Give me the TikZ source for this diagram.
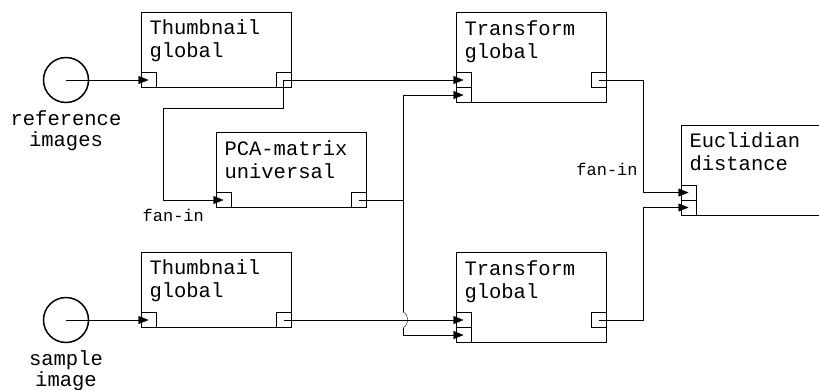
\documentclass[tikz,border=0pt]{standalone}
\usepackage{fontspec}
\newfontfamily\cour{Liberation Mono}
\usetikzlibrary{arrows.meta}
\tikzset{
  x=1pt, y=-1pt,
  line width=1.4pt,
  blk/.style={draw, rectangle, inner sep=0pt, minimum width=150pt},
  port/.style={draw, rectangle, inner sep=0pt, minimum size=15pt},
  src/.style={draw, circle, inner sep=0pt, minimum size=45pt, line width=1.5pt},
  btxt/.style={inner sep=0pt, font=\cour\fontsize{20.5}{23}\selectfont, anchor=base west, align=left},
  ctxt/.style={inner sep=0pt, font=\cour\fontsize{20.5}{21}\selectfont, anchor=base, align=center},
  fantxt/.style={inner sep=0pt, font=\cour\fontsize{17}{20}\selectfont, anchor=base},
  flow/.style={-{Triangle[length=10pt,width=8pt]}},
}
\begin{document}
\begin{tikzpicture}
\useasboundingbox (0,0) rectangle (819,389);
\clip (0,0) rectangle (819,389);
% boxes
\node[blk, minimum height=75pt] (th1) at (216,50) {};
\node[blk, minimum height=75pt] (th2) at (216,290) {};
\node[blk, minimum height=75pt] (pca) at (291,170) {};
\node[blk, minimum height=90pt] (tr1) at (531,57.5) {};
\node[blk, minimum height=90pt] (tr2) at (531,297.5) {};
\node[blk, minimum height=90pt] (euc) at (756,170) {};
% box texts (anchor = baseline of the last line)
\node[btxt] (th1t) at ([shift={(8.5,45.5)}]th1.north west) {Thumbnail\\global};
\node[btxt] (th2t) at ([shift={(8.5,45.5)}]th2.north west) {Thumbnail\\global};
\node[btxt] (pcat) at ([shift={(8.5,46)}]pca.north west) {PCA-matrix\\universal};
\node[btxt] (tr1t) at ([shift={(8.5,46)}]tr1.north west) {Transform\\global};
\node[btxt] (tr2t) at ([shift={(8.5,46)}]tr2.north west) {Transform\\global};
\node[btxt] (euct) at ([shift={(8.5,45.7)}]euc.north west) {Euclidian\\distance};
% ports
\node[port] (th1in) at (148.5,80) {};
\node[port] (th1out) at (283.5,80) {};
\node[port] (th2in) at (148.5,320) {};
\node[port] (th2out) at (283.5,320) {};
\node[port] (pcain) at (223.5,200) {};
\node[port] (pcaout) at (358.5,200) {};
\node[port] (tr1in1) at (463.5,80) {};
\node[port] (tr1in2) at (463.5,95) {};
\node[port] (tr1out) at (598.5,80) {};
\node[port] (tr2in1) at (463.5,320) {};
\node[port] (tr2in2) at (463.5,335) {};
\node[port] (tr2out) at (598.5,320) {};
\node[port] (eucin1) at (688.5,192.5) {};
\node[port] (eucin2) at (688.5,207.5) {};
% sources
\node[src] (ref) at (66,80) {};
\node[src] (smp) at (66,320) {};
\node[ctxt] (reft) at (66,146.7) {reference\\images};
\node[ctxt] (smpt) at (66,386.7) {sample\\image};
\node[fantxt] (fan1) at (173.3,221) {fan-in};
\node[fantxt] (fan2) at (607,175.5) {fan-in};
% routing points
\coordinate (j1) at (163,108);
\coordinate (bus) at (403,200);
\coordinate (ja) at (403,312);
\coordinate (jb) at (403,327.5);
\coordinate (f1) at (643.5,192.5);
\coordinate (f2) at (643.5,207.5);
% connectors
\draw[flow] (ref.center) -- (th1in.center);
\draw[flow] (smp.center) -- (th2in.center);
\draw[flow] (th1out.center) -- (tr1in1.center);
\draw[flow] (th1out.center) |- (j1) |- (pcain.center);
\draw[flow] (pcaout.center) -- (bus) |- (tr1in2.center);
\draw (bus) -- (ja);
\draw (ja) .. controls (409,314) and (409,325.5) .. (jb);
\draw[flow] (jb) |- (tr2in2.center);
\draw[flow] (th2out.center) -- (tr2in1.center);
\draw[flow] (tr1out.center) -| (f1) -- (eucin1.center);
\draw[flow] (tr2out.center) -| (f2) -- (eucin2.center);
\end{tikzpicture}
\end{document}
